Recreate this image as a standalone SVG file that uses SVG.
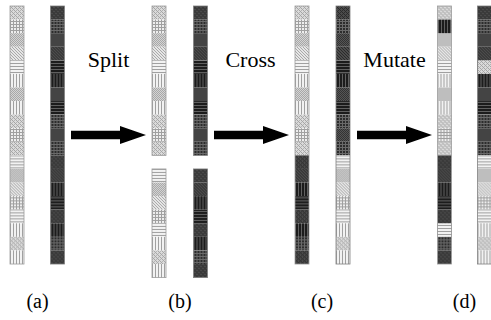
<svg xmlns="http://www.w3.org/2000/svg" width="491" height="320" viewBox="0 0 491 320">
  <style>
    .lD{fill:url(#pLD)} .lD2{fill:url(#pLD2)} .lG{fill:url(#pLG)} .lS{fill:url(#pLS)} .lH{fill:url(#pLH)} .lV{fill:url(#pLV)}
    .dD{fill:url(#pDD)} .dD2{fill:url(#pDD2)} .dG{fill:url(#pDG)} .dS{fill:url(#pDS)} .dH{fill:url(#pDH)} .dV{fill:url(#pDV)}
    .edgeL{fill:none;stroke:#9c9c9c;stroke-width:0.8}
    .edgeD{fill:none;stroke:#808080;stroke-width:0.8}
    .arrow{fill:#000}
    .step{font-family:"Liberation Serif","Times New Roman",serif;font-size:22px;fill:#000;text-anchor:middle}
    .tag{font-family:"Liberation Serif","Times New Roman",serif;font-size:20px;fill:#000;text-anchor:middle}
  </style>
  <defs>
    <!-- light gene textures -->
    <pattern id="pLS" width="2" height="2" patternUnits="userSpaceOnUse">
      <rect width="2" height="2" fill="#d4d4d4"/>
      <rect width="1" height="1" fill="#a8a8a8"/><rect x="1" y="1" width="1" height="1" fill="#a8a8a8"/>
    </pattern>
    <pattern id="pLD" width="4" height="4" patternUnits="userSpaceOnUse">
      <rect width="4" height="4" fill="#dadada"/>
      <rect x="2" y="0" width="1" height="1" fill="#b4b4b4"/><rect x="0" y="2" width="1" height="1" fill="#b4b4b4"/>
      <path d="M0,0L4,4M-1,3L1,5M3,-1L5,1" stroke="#989898" stroke-width="0.8"/>
    </pattern>
    <pattern id="pLD2" width="3" height="3" patternUnits="userSpaceOnUse">
      <rect width="3" height="3" fill="#e6e6e6"/>
      <path d="M0,0L3,3M-1,2L1,4M2,-1L4,1" stroke="#999" stroke-width="0.8"/>
    </pattern>
    <pattern id="pLG" width="3" height="3" patternUnits="userSpaceOnUse">
      <rect width="3" height="3" fill="#eeeeee"/>
      <path d="M0,0.5H3M0.5,0V3" stroke="#a0a0a0" stroke-width="1"/>
    </pattern>
    <pattern id="pLH" width="3" height="3" patternUnits="userSpaceOnUse">
      <rect width="3" height="3" fill="#f2f2f2"/>
      <rect width="3" height="1" fill="#a0a0a0"/>
    </pattern>
    <pattern id="pLV" width="3" height="3" patternUnits="userSpaceOnUse">
      <rect width="3" height="3" fill="#f2f2f2"/>
      <rect width="1" height="3" fill="#a0a0a0"/>
    </pattern>
    <!-- dark gene textures -->
    <pattern id="pDS" width="2" height="2" patternUnits="userSpaceOnUse">
      <rect width="2" height="2" fill="#555"/>
      <rect width="1" height="1" fill="#333"/><rect x="1" y="1" width="1" height="1" fill="#333"/>
    </pattern>
    <pattern id="pDD" width="4" height="4" patternUnits="userSpaceOnUse">
      <rect width="4" height="4" fill="#4a4a4a"/>
      <rect x="2" y="0" width="1" height="1" fill="#2e2e2e"/><rect x="0" y="2" width="1" height="1" fill="#2e2e2e"/>
      <path d="M0,0L4,4M-1,3L1,5M3,-1L5,1" stroke="#222" stroke-width="0.8"/>
    </pattern>
    <pattern id="pDD2" width="3" height="3" patternUnits="userSpaceOnUse">
      <rect width="3" height="3" fill="#4c4c4c"/>
      <path d="M0,0L3,3M-1,2L1,4M2,-1L4,1" stroke="#222" stroke-width="0.8"/>
    </pattern>
    <pattern id="pDG" width="3" height="3" patternUnits="userSpaceOnUse">
      <rect width="3" height="3" fill="#2c2c2c"/>
      <path d="M0,0.5H3M0.5,0V3" stroke="#6a6a6a" stroke-width="1"/>
    </pattern>
    <pattern id="pDH" width="3" height="3" patternUnits="userSpaceOnUse">
      <rect width="3" height="3" fill="#1c1c1c"/>
      <rect width="3" height="1" fill="#606060"/>
    </pattern>
    <pattern id="pDV" width="3" height="3" patternUnits="userSpaceOnUse">
      <rect width="3" height="3" fill="#1c1c1c"/>
      <rect width="1" height="3" fill="#606060"/>
    </pattern>

    <!-- chromosome halves: genes 1-11 (top) and 12-19 (bottom) -->
    <g id="lt">
      <rect class="lD" y="0" width="14" height="13.58"/>
      <rect class="lG" y="13.58" width="14" height="13.58"/>
      <rect class="lS" y="27.16" width="14" height="13.58"/>
      <rect class="lD2" y="40.74" width="14" height="13.58"/>
      <rect class="lH" y="54.32" width="14" height="13.58"/>
      <rect class="lV" y="67.9" width="14" height="13.58"/>
      <rect class="lS" y="81.48" width="14" height="13.58"/>
      <rect class="lV" y="95.06" width="14" height="13.58"/>
      <rect class="lD" y="108.64" width="14" height="13.58"/>
      <rect class="lG" y="122.22" width="14" height="13.58"/>
      <rect class="lD" y="135.8" width="14" height="13.58"/>
    </g>
    <g id="lb">
      <rect class="lH" y="0" width="14" height="13.58"/>
      <rect class="lS" y="13.58" width="14" height="13.58"/>
      <rect class="lD2" y="27.16" width="14" height="13.58"/>
      <rect class="lG" y="40.74" width="14" height="13.58"/>
      <rect class="lH" y="54.32" width="14" height="13.58"/>
      <rect class="lV" y="67.9" width="14" height="13.58"/>
      <rect class="lD" y="81.48" width="14" height="13.58"/>
      <rect class="lV" y="95.06" width="14" height="13.58"/>
    </g>
    <g id="dt">
      <rect class="dD" y="0" width="14" height="13.58"/>
      <rect class="dG" y="13.58" width="14" height="13.58"/>
      <rect class="dS" y="27.16" width="14" height="13.58"/>
      <rect class="dD2" y="40.74" width="14" height="13.58"/>
      <rect class="dH" y="54.32" width="14" height="13.58"/>
      <rect class="dV" y="67.9" width="14" height="13.58"/>
      <rect class="dS" y="81.48" width="14" height="13.58"/>
      <rect class="dH" y="95.06" width="14" height="13.58"/>
      <rect class="dG" y="108.64" width="14" height="13.58"/>
      <rect class="dS" y="122.22" width="14" height="13.58"/>
      <rect class="dG" y="135.8" width="14" height="13.58"/>
    </g>
    <g id="db">
      <rect class="dD" y="0" width="14" height="13.58"/>
      <rect class="dD2" y="13.58" width="14" height="13.58"/>
      <rect class="dV" y="27.16" width="14" height="13.58"/>
      <rect class="dH" y="40.74" width="14" height="13.58"/>
      <rect class="dD" y="54.32" width="14" height="13.58"/>
      <rect class="dV" y="67.9" width="14" height="13.58"/>
      <rect class="dG" y="81.48" width="14" height="13.58"/>
      <rect class="dD" y="95.06" width="14" height="13.58"/>
    </g>
    <path id="arrowShape" d="M0,-4.3H49V-9L75,0L49,9V4.3H0Z"/>
  </defs>

  <rect width="491" height="320" fill="#fff"/>

  <!-- (a) parents -->
  <g id="a-light">
    <use href="#lt" x="10" y="6"/><use href="#lb" x="10" y="155.38"/>
    <rect class="edgeL" x="10" y="6" width="14" height="258.02"/>
  </g>
  <g id="a-dark">
    <use href="#dt" x="50.5" y="6"/><use href="#db" x="50.5" y="155.38"/>
    <rect class="edgeD" x="50.5" y="6" width="14" height="258.02"/>
  </g>

  <!-- (b) split -->
  <g id="b-light">
    <use href="#lt" x="152" y="6"/><use href="#lb" x="152" y="168.96"/>
    <rect class="edgeL" x="152" y="6" width="14" height="149.38"/>
    <rect class="edgeL" x="152" y="168.96" width="14" height="108.64"/>
  </g>
  <g id="b-dark">
    <use href="#dt" x="193.5" y="6"/><use href="#db" x="193.5" y="168.96"/>
    <rect class="edgeD" x="193.5" y="6" width="14" height="149.38"/>
    <rect class="edgeD" x="193.5" y="168.96" width="14" height="108.64"/>
  </g>

  <!-- (c) crossed -->
  <g id="c-left">
    <use href="#lt" x="295" y="6"/><use href="#db" x="295" y="155.38"/>
    <rect class="edgeL" x="295" y="6" width="14" height="258.02"/>
  </g>
  <g id="c-right">
    <use href="#dt" x="336" y="6"/><use href="#lb" x="336" y="155.38"/>
    <rect class="edgeD" x="336" y="6" width="14" height="258.02"/>
  </g>

  <!-- (d) mutated -->
  <g id="d-left">
    <use href="#lt" x="437.5" y="6"/><use href="#db" x="437.5" y="155.38"/>
    <rect class="dV" x="437.5" y="19.58" width="14" height="13.58"/>
    <rect class="lH" x="437.5" y="223.28" width="14" height="13.58"/>
    <rect class="edgeL" x="437.5" y="6" width="14" height="258.02"/>
  </g>
  <g id="d-right">
    <use href="#dt" x="477.5" y="6"/><use href="#lb" x="477.5" y="155.38"/>
    <rect class="lD" x="477.5" y="60.32" width="14" height="13.58"/>
    <rect class="edgeD" x="477.5" y="6" width="14" height="258.02"/>
  </g>

  <!-- connectors -->
  <g id="connectors" class="arrow">
    <use href="#arrowShape" x="71" y="135"/>
    <use href="#arrowShape" x="214" y="135"/>
    <use href="#arrowShape" x="357" y="135"/>
  </g>

  <!-- step names -->
  <g id="labels">
    <text class="step" x="108.5" y="67">Split</text>
    <text class="step" x="250.5" y="67">Cross</text>
    <text class="step" x="394.5" y="67">Mutate</text>
    <text class="tag" x="37.5" y="308">(a)</text>
    <text class="tag" x="180" y="308">(b)</text>
    <text class="tag" x="322" y="308">(c)</text>
    <text class="tag" x="464.5" y="308">(d)</text>
  </g>
</svg>
